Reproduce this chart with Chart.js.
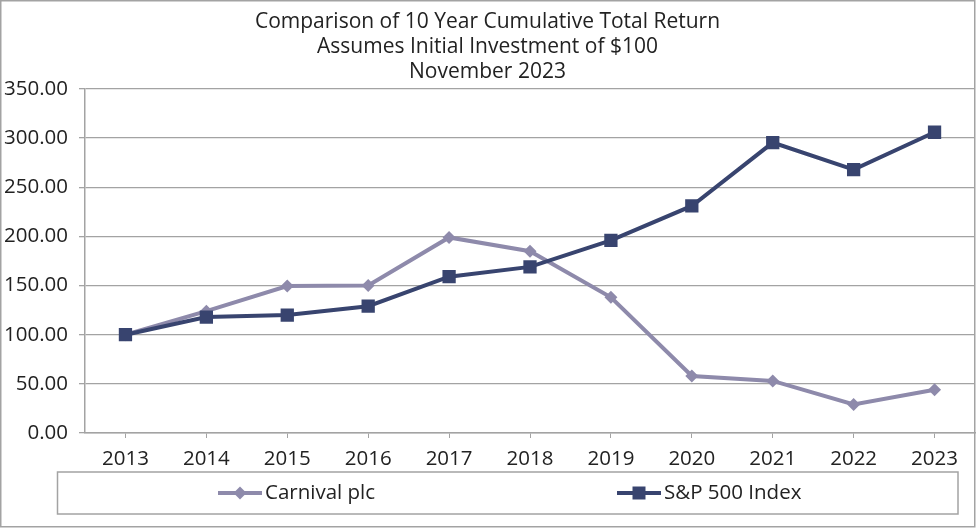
<!DOCTYPE html>
<html>
<head>
<meta charset="utf-8">
<script src="https://cdn.jsdelivr.net/npm/chart.js@4"></script>
<style>
html,body{margin:0;padding:0;background:#fff;}
#wrap{width:976px;height:528px;position:relative;}
</style>
</head>
<body>
<div id="wrap"><canvas id="c" width="976" height="528"></canvas></div>
<script>
const categories = ['2013','2014','2015','2016','2017','2018','2019','2020','2021','2022','2023'];
const carnivalValues = [100, 124, 149.5, 150, 199, 185, 138, 58, 53, 29, 44];
const spValues = [100, 118, 120, 129, 159, 169, 196, 231, 295.5, 268, 306];
const seriesNames = ['Carnival plc', 'S&P 500 Index'];
const titleLines = ['Comparison of 10 Year Cumulative Total Return', 'Assumes Initial Investment of $100', 'November 2023'];

const FONT = '"Open Sans", "Noto Sans", sans-serif';
const TEXT = '#222222';
const GRID = '#a3a3a3';
const C1 = '#8e8aab';
const C2 = '#38446f';

const framePlugin = {
  id: 'frame',
  beforeDraw(chart) {
    const ctx = chart.ctx;
    ctx.save();
    ctx.fillStyle = '#fff';
    ctx.fillRect(0, 0, chart.width, chart.height);
    ctx.strokeStyle = GRID;
    ctx.lineWidth = 1.5;
    ctx.strokeRect(0.75, 0.75, 974, 526);
    ctx.restore();
  }
};

const boxLegend = {
  id: 'boxLegend',
  afterDraw(chart) {
    const ctx = chart.ctx;
    ctx.save();
    ctx.strokeStyle = GRID;
    ctx.lineWidth = 1.5;
    ctx.strokeRect(57.5, 472, 900.5, 42);
    const cy = 493;
    const starts = [218, 617];
    chart.data.datasets.forEach((ds, i) => {
      const x0 = starts[i];
      ctx.strokeStyle = ds.borderColor;
      ctx.lineWidth = 4;
      ctx.beginPath();
      ctx.moveTo(x0, cy);
      ctx.lineTo(x0 + 44, cy);
      ctx.stroke();
      ctx.fillStyle = ds.borderColor;
      ctx.beginPath();
      if (ds.pointStyle === 'rectRot') {
        ctx.moveTo(x0 + 22, cy - 6.5);
        ctx.lineTo(x0 + 28.5, cy);
        ctx.lineTo(x0 + 22, cy + 6.5);
        ctx.lineTo(x0 + 15.5, cy);
        ctx.closePath();
      } else {
        ctx.rect(x0 + 22 - 6.5, cy - 6.5, 13, 13);
      }
      ctx.fill();
      ctx.fillStyle = TEXT;
      ctx.font = '20.5px ' + FONT;
      ctx.textBaseline = 'middle';
      ctx.textAlign = 'left';
      ctx.fillText(ds.label, x0 + 47, cy);
    });
    ctx.restore();
  }
};

new Chart(document.getElementById('c'), {
  type: 'line',
  data: {
    labels: categories,
    datasets: [
      {
        label: seriesNames[0],
        data: carnivalValues,
        borderColor: C1,
        backgroundColor: C1,
        borderWidth: 4,
        pointStyle: 'rectRot',
        pointRadius: 6.5,
        pointHoverRadius: 6.5,
        pointBorderWidth: 0,
        tension: 0,
        order: 1
      },
      {
        label: seriesNames[1],
        data: spValues,
        borderColor: C2,
        backgroundColor: C2,
        borderWidth: 4,
        pointStyle: 'rect',
        pointRadius: 9.4,
        pointHoverRadius: 9.4,
        pointBorderWidth: 0,
        tension: 0,
        order: 0
      }
    ]
  },
  options: {
    responsive: false,
    animation: false,
    events: [],
    layout: { autoPadding: false, padding: { left: 0, right: 1, top: 0, bottom: 57 } },
    plugins: {
      legend: { display: false },
      tooltip: { enabled: false },
      title: {
        display: true,
        text: titleLines,
        color: TEXT,
        font: { family: FONT, size: 21, weight: 'normal', lineHeight: '25px' },
        padding: { top: 9.5, bottom: 4.5 }
      }
    },
    scales: {
      x: {
        type: 'category',
        offset: true,
        afterFit(s) { s.height = 38; s.paddingLeft = 0; s.paddingRight = 0; },
        border: { display: true, color: GRID, width: 1.5 },
        grid: { display: true, drawOnChartArea: false, offset: false, color: GRID, lineWidth: 1, tickLength: 5 },
        ticks: { color: TEXT, font: { family: FONT, size: 20.5 }, padding: 9, maxRotation: 0, autoSkip: false }
      },
      y: {
        min: 0,
        max: 350,
        afterFit(s) { s.width = 85; s.paddingTop = 0; s.paddingBottom = 0; },
        border: { display: true, color: GRID, width: 1.5 },
        grid: { color: GRID, lineWidth: 1.3, tickLength: 6 },
        ticks: {
          stepSize: 50,
          color: TEXT,
          font: { family: FONT, size: 20.5 },
          padding: 11,
          callback: v => Number(v).toFixed(2)
        }
      }
    }
  },
  plugins: [framePlugin, boxLegend]
});
</script>
</body>
</html>
